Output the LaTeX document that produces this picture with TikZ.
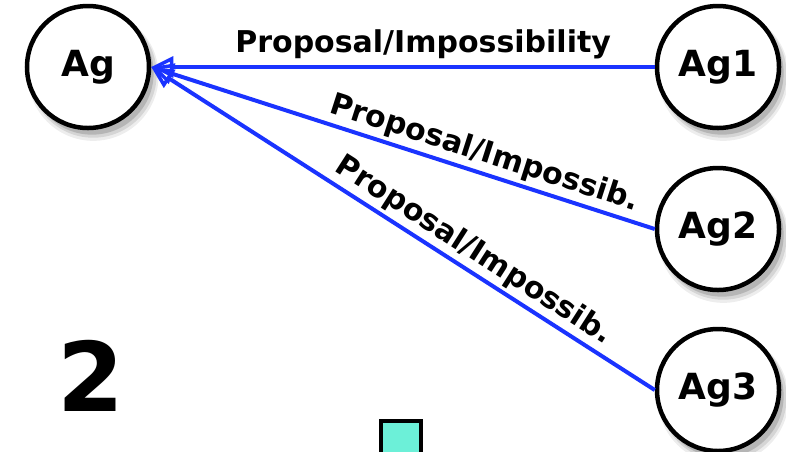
\documentclass[tikz,border=0pt]{standalone}
\usepackage{fontspec}
\setmainfont{DejaVu Sans}
\usetikzlibrary{arrows.meta,shadows}
\definecolor{linkblue}{RGB}{26,51,255}
\definecolor{boxcyan}{RGB}{108,240,216}
\tikzset{
  agent/.style={circle, draw=black, line width=4.5pt, fill=white, minimum size=122pt, inner sep=0pt,
    font=\fontsize{36}{38}\selectfont\bfseries,
    drop shadow={shadow xshift=5pt, shadow yshift=-8pt, shadow scale=1.07, opacity=0.07, fill=black},
    drop shadow={shadow xshift=5pt, shadow yshift=-7pt, shadow scale=1.04, opacity=0.1, fill=black},
    drop shadow={shadow xshift=4pt, shadow yshift=-6pt, shadow scale=1.01, opacity=0.15, fill=black}},
  msg/.style={draw=linkblue, line width=4pt, -{Triangle[open, length=22pt, width=21pt, line width=3.5pt]}},
  msglabel/.style={font=\fontsize{30}{32}\selectfont\bfseries, text=black, inner sep=1pt}
}
\begin{document}
\begin{tikzpicture}[x=1pt, y=-1pt]
\useasboundingbox (0,0) rectangle (786,451);
\node[agent] (ag) at (88,67) {Ag};
\node[agent] (ag1) at (718,67) {Ag1};
\node[agent] (ag2) at (718,229) {Ag2};
\node[agent] (ag3) at (718,390) {Ag3};
\draw[msg] (ag1) -- (ag) node[msglabel, pos=0.46, above=5pt] {Proposal/Impossibility};
\draw[msg] (ag2.west) -- (ag.east) node[msglabel, pos=0.35, sloped, above=2pt] {Proposal/Impossib.};
\draw[msg] (ag3.west) -- (ag.east) node[msglabel, pos=0.38, sloped, above=2pt] {Proposal/Impossib.};
\node[font=\fontsize{96}{96}\selectfont\bfseries] (num) at (91,376) {2};
\node[draw=black, line width=3.5pt, fill=boxcyan, minimum width=40pt, minimum height=40pt, inner sep=0pt] (box) at (401,441) {};
\end{tikzpicture}
\end{document}
